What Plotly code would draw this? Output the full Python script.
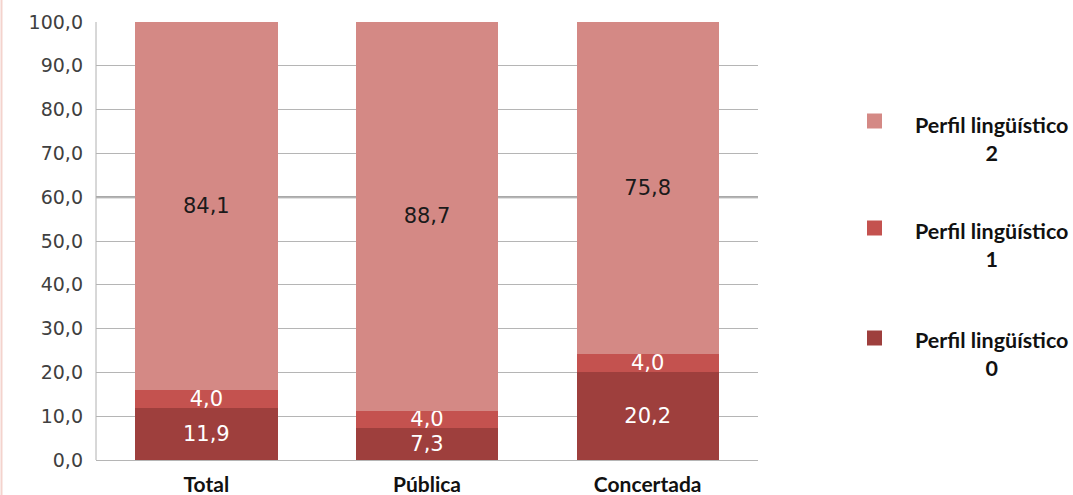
import plotly.graph_objects as go

categories = ["Total", "Pública", "Concertada"]
series_names = ["Perfil lingüístico 0", "Perfil lingüístico 1", "Perfil lingüístico 2"]
legend_labels = ["Perfil lingüístico<br>0", "Perfil lingüístico<br>1", "Perfil lingüístico<br>2"]
perfil0 = [11.9, 7.3, 20.2]
perfil1 = [4.0, 4.0, 4.0]
perfil2 = [84.1, 88.7, 75.8]
y_ticks = [0, 10, 20, 30, 40, 50, 60, 70, 80, 90, 100]

values = [perfil0, perfil1, perfil2]
colors = ["#9e3f3d", "#c4524f", "#d48985"]
text_colors = ["white", "white", "#1a1a1a"]

FONT = "Lato, Carlito, Calibri, sans-serif"
NUMFONT = "DejaVu Sans, Verdana, sans-serif"

fig = go.Figure()
for name, vals, col, tcol in zip(series_names, values, colors, text_colors):
    fig.add_trace(go.Bar(
        x=categories, y=vals, name=name,
        marker=dict(color=col, line=dict(width=0)),
        text=[f"{v:.1f}".replace(".", ",") for v in vals],
        textposition="inside", insidetextanchor="middle",
        textfont=dict(color=tcol, size=21, family=NUMFONT),
        showlegend=False,
    ))

L, R, T, B = 96, 315, 22, 35
W, H = 1073, 495
pw, ph = W - L - R, H - T - B

def px_x(x):
    return (x - L) / pw

def px_y(y):
    return (H - B - y) / ph

# manual legend (top: Perfil 2)
marker_y = [338, 228, 121]
text_y = [354, 245, 139]
shapes = []
annotations = []
for i in range(3):
    shapes.append(dict(type="rect", xref="paper", yref="paper",
                       x0=px_x(867), x1=px_x(882),
                       y0=px_y(marker_y[i] + 7.5), y1=px_y(marker_y[i] - 7.5),
                       fillcolor=colors[i], line=dict(width=0)))
    annotations.append(dict(xref="paper", yref="paper", x=px_x(991), y=px_y(text_y[i]),
                            text=f"<b>{legend_labels[i]}</b>", showarrow=False,
                            xanchor="center", yanchor="middle", align="center",
                            font=dict(size=21.5, color="#111111", family=FONT)))

# darker 60 line
shapes.append(dict(type="line", xref="paper", yref="y", x0=0, x1=1, y0=60, y1=60,
                   line=dict(color="#8c8c8c", width=2), layer="below"))
# left pinkish border of the page
shapes.append(dict(type="line", xref="paper", yref="paper", x0=px_x(1.5), x1=px_x(1.5),
                   y0=px_y(495), y1=px_y(0), line=dict(color="#f4d3cd", width=2)))
# plot-area left edge
shapes.append(dict(type="line", xref="paper", yref="paper", x0=0, x1=0,
                   y0=0, y1=1, line=dict(color="#b0b0b0", width=1), layer="below"))

fig.update_layout(
    width=W, height=H,
    margin=dict(l=L, r=R, t=T, b=B, autoexpand=False),
    barmode="stack", bargap=0.355,
    plot_bgcolor="white", paper_bgcolor="white",
    separators=",.",
    font=dict(family=FONT),
    uniformtext=dict(minsize=21, mode="show"),
    shapes=shapes, annotations=annotations,
    xaxis=dict(showgrid=False, showline=False, ticks="", ticklabelstandoff=10,
               automargin=False,
               tickfont=dict(size=21, color="#111111", family=FONT),
               ticktext=[f"<b>{c}</b>" for c in categories], tickvals=categories),
    yaxis=dict(range=[0, 100], tickvals=y_ticks, tickformat=".1f", automargin=False,
               showgrid=True, gridcolor="#b5b5b5", gridwidth=1,
               zeroline=True, zerolinecolor="#b5b5b5", zerolinewidth=1,
               showline=False, ticks="", ticklabelstandoff=12,
               tickfont=dict(size=19, color="#404040", family=NUMFONT)),
)

fig.write_html("out.html")
